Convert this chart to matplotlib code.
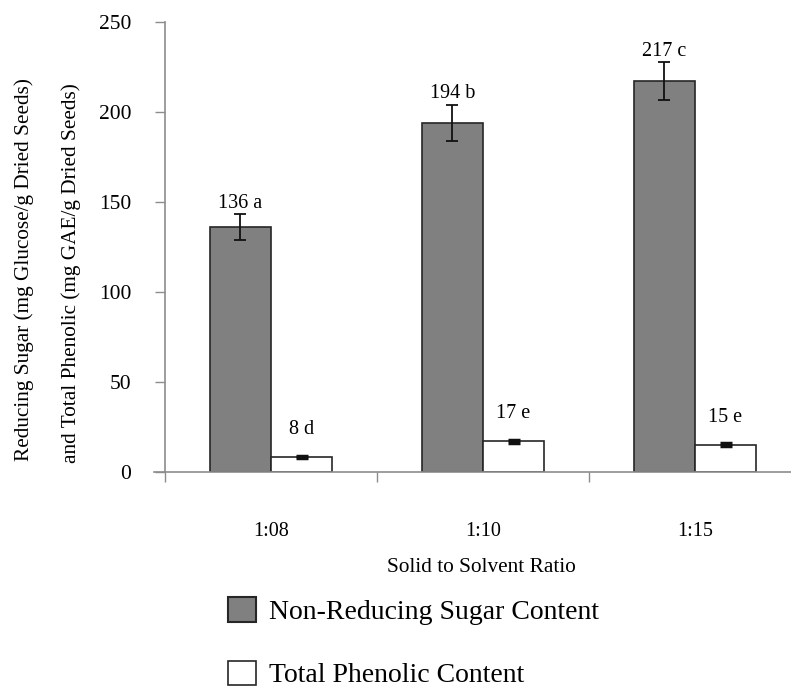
import matplotlib
matplotlib.use("Agg")
import matplotlib.pyplot as plt
import numpy as np
from matplotlib.patches import Patch
from matplotlib.ticker import FixedLocator

plt.rcParams['font.family'] = ['Liberation Serif', 'DejaVu Serif']

ratios = ["1:08", "1:10", "1:15"]
sugar = [136, 194, 217]
sugar_err = [7, 10, 10.5]
sugar_letters = ["a", "b", "c"]
phenolic = [8, 17, 15]
phenolic_err = [0.6, 0.8, 0.8]
phenolic_letters = ["d", "e", "e"]

W, H = 791, 689
fig = plt.figure(figsize=(W / 100, H / 100), dpi=100)
# plot area runs past the right edge of the figure
ax = fig.add_axes([165 / W, 1 - 471.7 / H, (801 - 165) / W, 450 / H])

x = np.arange(len(ratios))
bw = 0.288
axis_grey = "#8c8c8c"

ax.bar(x - bw / 2, sugar, bw, color="#808080", edgecolor="#262626", linewidth=1.2,
       yerr=sugar_err, error_kw=dict(ecolor="#111111", elinewidth=1.3, capsize=4.5, capthick=1.3),
       zorder=2)
ax.bar(x + bw / 2, phenolic, bw, color="white", edgecolor="#262626", linewidth=1.2,
       yerr=phenolic_err, error_kw=dict(ecolor="#111111", elinewidth=1.3, capsize=4.5, capthick=2.5),
       zorder=2)

for i in range(len(ratios)):
    ax.annotate(f"{sugar[i]} {sugar_letters[i]}", (x[i] - bw / 2, sugar[i] + sugar_err[i]),
                xytext=(0, 1), textcoords="offset points", ha="center", va="bottom", fontsize=14.5)
    ax.annotate(f"{phenolic[i]} {phenolic_letters[i]}", (x[i] + bw / 2, phenolic[i]),
                xytext=(0, 13), textcoords="offset points", ha="center", va="bottom", fontsize=14.5)

ax.set_xlim(-0.5, 2.5)
ax.set_ylim(0, 250)
ax.set_yticks([0, 50, 100, 150, 200, 250])
ax.tick_params(axis="y", direction="out", length=7.2, width=1, color=axis_grey,
               pad=17, labelsize=15.5)

# category labels in the middle, tick marks on the boundaries
ax.set_xticks(x)
ax.set_xticklabels(ratios)
ax.tick_params(axis="x", which="major", length=0, pad=36, labelsize=14.5)
ax.xaxis.set_minor_locator(FixedLocator([-0.5, 0.5, 1.5, 2.5]))
ax.tick_params(axis="x", which="minor", direction="out", length=7.2, width=1, color=axis_grey)

for side in ["top", "right"]:
    ax.spines[side].set_visible(False)
for side in ["left", "bottom"]:
    ax.spines[side].set_color(axis_grey)
    ax.spines[side].set_linewidth(1.2)
ax.spines["bottom"].set_bounds(-0.552, 2.5)

fig.text(481 / W, 1 - 568 / H, "Solid to Solvent Ratio", ha="center", va="center", fontsize=15.3)
fig.text(24 / W, 1 - 270 / H, "Reducing Sugar (mg Glucose/g Dried Seeds)",
         rotation=90, ha="center", va="center", fontsize=15.3)
fig.text(71 / W, 1 - 273 / H, "and Total Phenolic (mg GAE/g Dried Seeds)",
         rotation=90, ha="center", va="center", fontsize=15.3)

handles = [Patch(facecolor="#808080", edgecolor="#262626", linewidth=1.5),
           Patch(facecolor="white", edgecolor="#262626", linewidth=1.2)]
fig.legend(handles, ["Non-Reducing Sugar Content", "Total Phenolic Content"],
           loc="upper left", bbox_to_anchor=(228 / W, 1 - 597 / H), frameon=False,
           fontsize=20, handlelength=1.0, handleheight=1.0, handletextpad=0.47,
           labelspacing=1.28, borderpad=0, borderaxespad=0)

fig.savefig("out.png", dpi=100)
